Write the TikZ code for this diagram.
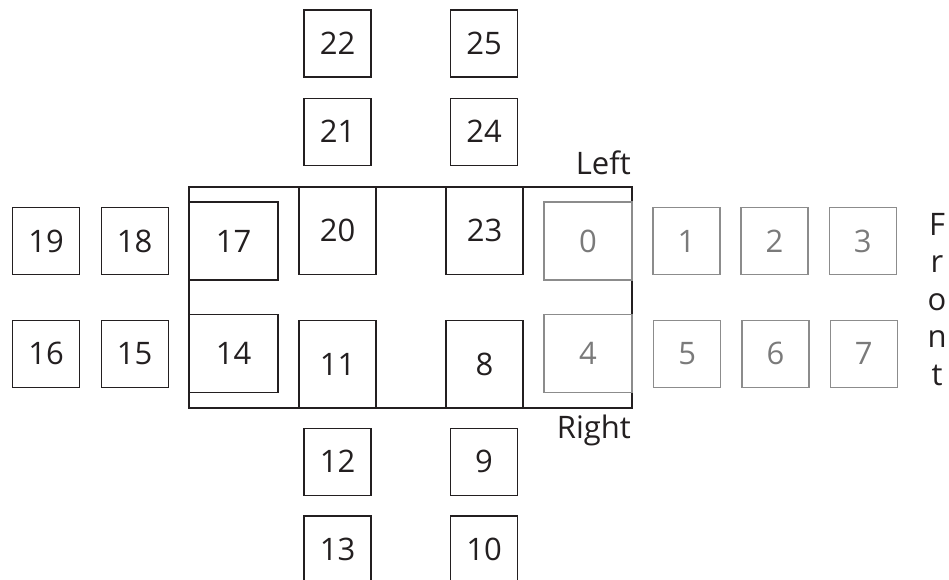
\documentclass[tikz,border=0pt]{standalone}
\usepackage{fontspec}
\setmainfont{Open Sans}
\definecolor{ink}{HTML}{231F20}
\definecolor{greyline}{HTML}{8C8C8C}
\definecolor{greytext}{HTML}{7A7A7A}
\begin{document}
\begin{tikzpicture}[x=1pt,y=-1pt,
  lbl/.style={font=\fontsize{31}{37}\selectfont, text=ink},
  box/.style={draw=ink, line width=1.3pt, inner sep=0pt, lbl, minimum width=67pt, minimum height=67pt},
  gbox/.style={box, draw=greyline, text=greytext},
  wide/.style={minimum width=89pt, minimum height=78pt},
  tall/.style={minimum width=77pt, minimum height=87.5pt}]
\useasboundingbox (0,0) rectangle (949,580);
\clip (0,0) rectangle (949,580);
% car body
\node[draw=ink, line width=1.3pt, inner sep=0pt, minimum width=443pt, minimum height=221pt] (body) at (410.5,297.5) {};
% inner boxes
\node[box, wide] (b17) at (233.5,241) {17};
\node[box, wide] (b14) at (233.5,353.5) {14};
\node[box, tall] (b20) at (337.5,230.75) {20};
\node[box, tall] (b11) at (337.5,364.25) {11};
\node[box, tall] (b23) at (484.5,230.75) {23};
\node[box, tall] (b8) at (484.5,364.25) {8};
\node[gbox, minimum width=88pt, minimum height=78pt] (b0) at (588,241) {0};
\node[gbox, minimum width=88pt, minimum height=78pt] (b4) at (588,353.5) {4};
% top
\node[box] (b22) at (337.5,43.5) {22};
\node[box] (b21) at (337.5,131.7) {21};
\node[box] (b25) at (484,43.5) {25};
\node[box] (b24) at (484,131.7) {24};
% bottom
\node[box] (b12) at (337.5,461.7) {12};
\node[box] (b13) at (337.5,549.5) {13};
\node[box] (b9) at (484,461.7) {9};
\node[box] (b10) at (484,549.5) {10};
% left
\node[box] (b19) at (46,241) {19};
\node[box] (b18) at (134.7,241) {18};
\node[box] (b16) at (46,353.7) {16};
\node[box] (b15) at (134.7,353.7) {15};
% right (grey)
\node[gbox] (b1) at (686.5,241) {1};
\node[gbox] (b2) at (774.5,241) {2};
\node[gbox] (b3) at (862.7,241) {3};
\node[gbox] (b5) at (687.3,353.7) {5};
\node[gbox] (b6) at (775.5,353.7) {6};
\node[gbox] (b7) at (863.7,353.7) {7};
% labels
\node[lbl, anchor=base east, inner sep=0pt] (left) at (631,175) {Left};
\node[lbl, anchor=base east, inner sep=0pt] (right) at (631,438) {Right};
\node[font=\fontsize{31}{37.5}\selectfont, text=ink, align=center, inner sep=0pt, anchor=base] (front) at (937,385) {F\\r\\o\\n\\t};
\end{tikzpicture}
\end{document}
